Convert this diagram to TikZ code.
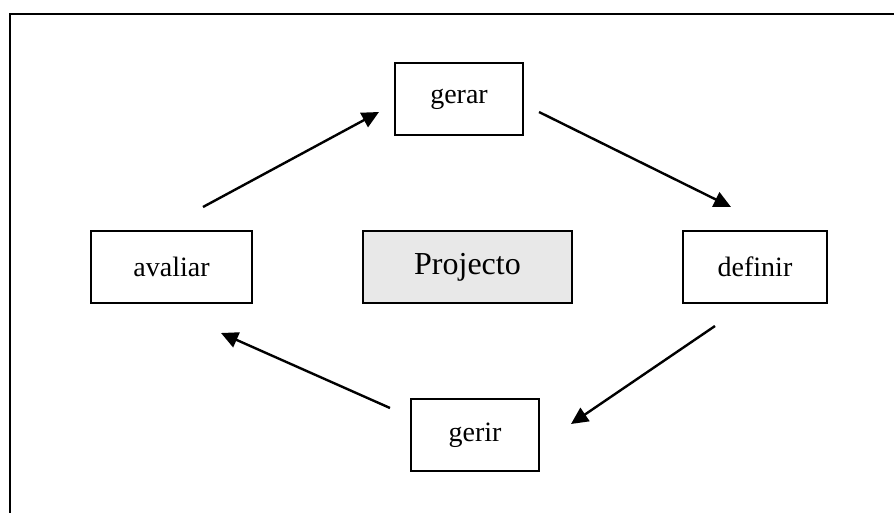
\documentclass[tikz,border=0pt]{standalone}
\usepackage{fontspec}
\setmainfont{Liberation Serif}
\usetikzlibrary{arrows.meta}
\begin{document}
\begin{tikzpicture}[x=0.5pt,y=-0.5pt,
  box/.style={draw=black,line width=1pt,minimum height=36pt,inner sep=0pt,font=\fontsize{14}{16}\selectfont},
  flow/.style={line width=1.2pt,-{Triangle[length=8.5pt,width=8pt]}}]
\useasboundingbox (0,0) rectangle (894,513);
\coordinate (f1) at (10,513);
\coordinate (f2) at (10,14);
\coordinate (f3) at (894,14);
\draw[line width=1pt] (f1) -- (f2) -- (f3);
\node[box,minimum width=64pt] (gerar) at (459,99) {gerar};
\node[box,minimum width=104.5pt,fill=black!9,font=\fontsize{16}{18}\selectfont] (proj) at (467.5,267) {\raisebox{-1pt}{Projecto}};
\node[box,minimum width=80.5pt] (avaliar) at (171.5,267) {avaliar};
\node[box,minimum width=72pt] (definir) at (755,267) {definir};
\node[box,minimum width=64pt] (gerir) at (475,435) {gerir};
\coordinate (a1s) at (203,207);
\coordinate (a1e) at (379,112);
\coordinate (a2s) at (539,112);
\coordinate (a2e) at (731,207);
\coordinate (a3s) at (715,326);
\coordinate (a3e) at (571,424);
\coordinate (a4s) at (390,408);
\coordinate (a4e) at (221,333);
\draw[flow] (a1s) -- (a1e);
\draw[flow] (a2s) -- (a2e);
\draw[flow] (a3s) -- (a3e);
\draw[flow] (a4s) -- (a4e);
\end{tikzpicture}
\end{document}
